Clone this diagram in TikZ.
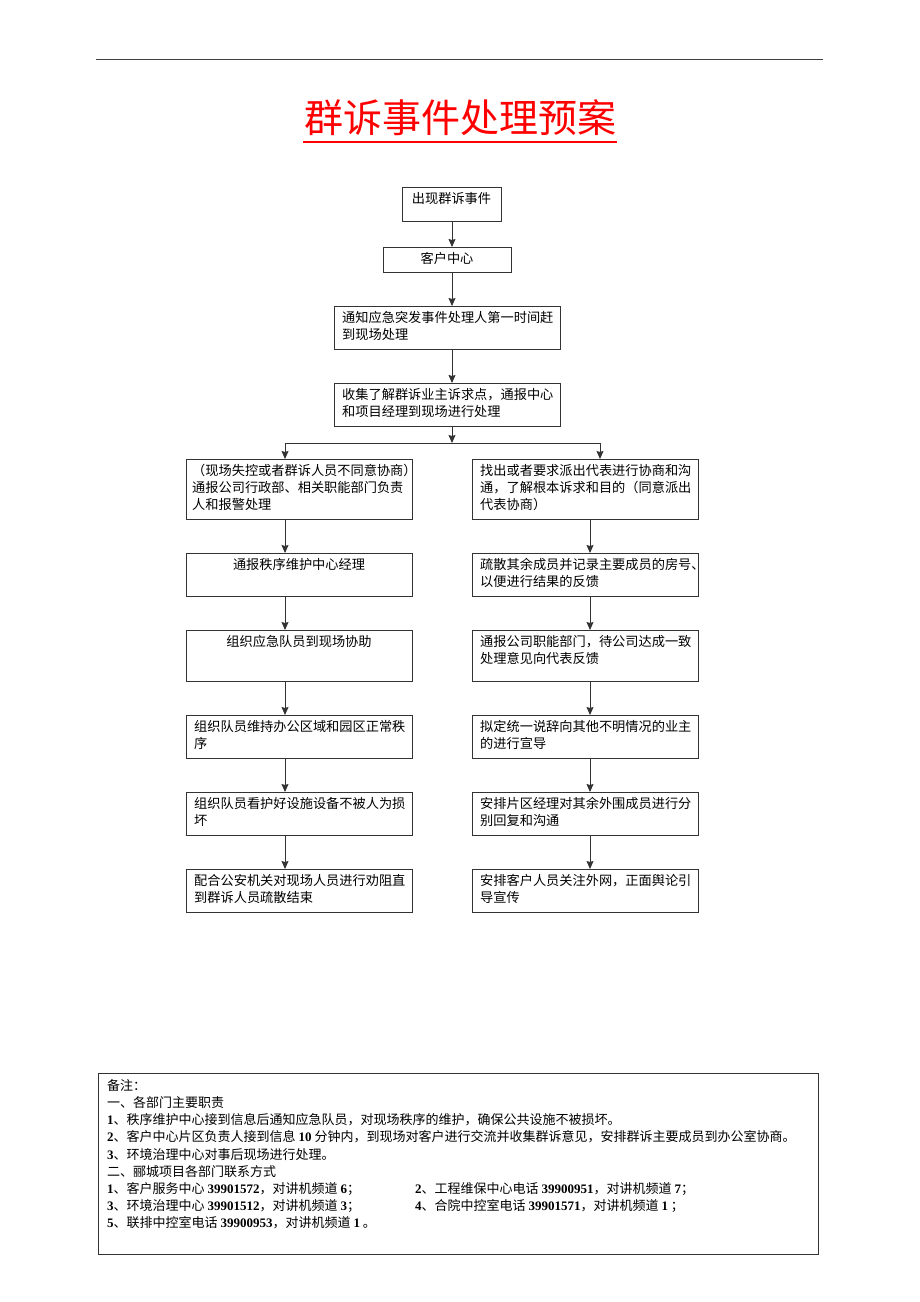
\documentclass[tikz,border=0pt]{standalone}
\usepackage{fontspec}
\setmainfont{Liberation Serif}
\newfontfamily\cjk{Noto Sans CJK SC}
\newfontfamily\numfont{Liberation Serif}
\newcommand\nm[1]{{\numfont\bfseries #1}}
\usetikzlibrary{arrows.meta}
\tikzset{
  frame/.style={draw=black!80, line width=0.9pt, anchor=north west, inner sep=0pt},
  txt/.style={anchor=north west, inner sep=0pt, align=left, font=\cjk\fontsize{13.2}{17}\selectfont},
  ctxt/.style={anchor=north, inner sep=0pt, align=center, font=\cjk\fontsize{13.2}{17}\selectfont},
  arr/.style={draw=black!80, line width=0.9pt, -{Stealth[length=8pt,width=7pt,inset=1pt]}},
  ln/.style={draw=black!80, line width=0.9pt},
  note/.style={anchor=north west, inner sep=0pt, font=\cjk\fontsize{13}{17}\selectfont},
}
\begin{document}
\begin{tikzpicture}[x=1pt,y=-1pt]
\useasboundingbox (0,0) rectangle (920,1302);
\fill[white] (0,0) rectangle (920,1302);
% top rule
\draw[black!75, line width=1pt] (96,59) -- (823,59);
% title
\node[anchor=north, inner sep=0pt, text=red, font=\cjk\fontsize{39}{39}\selectfont] (title) at (460,99) {群诉事件处理预案};
\draw[red, line width=2.6pt] (303,142) -- (617,142);

% center boxes
\node[frame, minimum width=99pt, minimum height=34pt] (b1) at (402,187) {};
\node[ctxt] at (451.5,192) {出现群诉事件};
\node[frame, minimum width=128pt, minimum height=25pt] (b2) at (383,247) {};
\node[ctxt] at (447,252) {客户中心};
\node[frame, minimum width=226pt, minimum height=43pt] (b3) at (334,306) {};
\node[txt] at (342,311) {通知应急突发事件处理人第一时间赶\\到现场处理};
\node[frame, minimum width=226pt, minimum height=43pt] (b4) at (334,383) {};
\node[txt] at (342,388) {收集了解群诉业主诉求点，通报中心\\和项目经理到现场进行处理};

\coordinate (cx) at (452,0);
\draw[arr] (b1.south -| cx) -- (b2.north -| cx);
\draw[arr] (b2.south -| cx) -- (b3.north -| cx);
\draw[arr] (b3.south -| cx) -- (b4.north -| cx);
\coordinate (split) at (452,443);
\coordinate (sl) at (285,443);
\coordinate (sr) at (600,443);
\draw[arr] (b4.south -| split) -- (split);
\draw[ln] (sl) -- (sr);

% left column
\node[frame, minimum width=226pt, minimum height=60pt] (l1) at (186,459) {};
\node[txt] at (192,464) {（现场失控或者群诉人员不同意协商）\\通报公司行政部、相关职能部门负责\\人和报警处理};
\node[frame, minimum width=226pt, minimum height=43pt] (l2) at (186,553) {};
\node[ctxt] at (299,558) {通报秩序维护中心经理};
\node[frame, minimum width=226pt, minimum height=51pt] (l3) at (186,630) {};
\node[ctxt] at (299,635) {组织应急队员到现场协助};
\node[frame, minimum width=226pt, minimum height=43pt] (l4) at (186,715) {};
\node[txt] at (194,720) {组织队员维持办公区域和园区正常秩\\序};
\node[frame, minimum width=226pt, minimum height=43pt] (l5) at (186,792) {};
\node[txt] at (194,797) {组织队员看护好设施设备不被人为损\\坏};
\node[frame, minimum width=226pt, minimum height=43pt] (l6) at (186,869) {};
\node[txt] at (194,874) {配合公安机关对现场人员进行劝阻直\\到群诉人员疏散结束};

% right column
\node[frame, minimum width=226pt, minimum height=60pt] (r1) at (472,459) {};
\node[txt] at (480,464) {找出或者要求派出代表进行协商和沟\\通，了解根本诉求和目的（同意派出\\代表协商）};
\node[frame, minimum width=226pt, minimum height=43pt] (r2) at (472,553) {};
\node[txt] at (480,558) {疏散其余成员并记录主要成员的房号、\\以便进行结果的反馈};
\node[frame, minimum width=226pt, minimum height=51pt] (r3) at (472,630) {};
\node[txt] at (480,635) {通报公司职能部门，待公司达成一致\\处理意见向代表反馈};
\node[frame, minimum width=226pt, minimum height=43pt] (r4) at (472,715) {};
\node[txt] at (480,720) {拟定统一说辞向其他不明情况的业主\\的进行宣导};
\node[frame, minimum width=226pt, minimum height=43pt] (r5) at (472,792) {};
\node[txt] at (480,797) {安排片区经理对其余外围成员进行分\\别回复和沟通};
\node[frame, minimum width=226pt, minimum height=43pt] (r6) at (472,869) {};
\node[txt] at (480,874) {安排客户人员关注外网，正面舆论引\\导宣传};

% split arrows
\draw[arr] (sl) -- (l1.north -| sl);
\draw[arr] (sr) -- (r1.north -| sr);
% left chain
\coordinate (lx) at (285,0);
\draw[arr] (l1.south -| lx) -- (l2.north -| lx);
\draw[arr] (l2.south -| lx) -- (l3.north -| lx);
\draw[arr] (l3.south -| lx) -- (l4.north -| lx);
\draw[arr] (l4.south -| lx) -- (l5.north -| lx);
\draw[arr] (l5.south -| lx) -- (l6.north -| lx);
% right chain
\coordinate (rx) at (590,0);
\draw[arr] (r1.south -| rx) -- (r2.north -| rx);
\draw[arr] (r2.south -| rx) -- (r3.north -| rx);
\draw[arr] (r3.south -| rx) -- (r4.north -| rx);
\draw[arr] (r4.south -| rx) -- (r5.north -| rx);
\draw[arr] (r5.south -| rx) -- (r6.north -| rx);

% notes box
\node[frame, minimum width=720pt, minimum height=181pt] (notes) at (98,1073) {};
\node[note] at (107,1079) {备注：};
\node[note] at (107,1096) {一、各部门主要职责};
\node[note] at (107,1113) {\nm{1}、秩序维护中心接到信息后通知应急队员，对现场秩序的维护，确保公共设施不被损坏。};
\node[note] at (107,1130.5) {\nm{2}、客户中心片区负责人接到信息 \nm{10} 分钟内，到现场对客户进行交流并收集群诉意见，安排群诉主要成员到办公室协商。};
\node[note] at (107,1148) {\nm{3}、环境治理中心对事后现场进行处理。};
\node[note] at (107,1165) {二、郦城项目各部门联系方式};
\node[note] at (107,1182) {\nm{1}、客户服务中心 \nm{39901572}，对讲机频道 \nm{6}；};
\node[note] at (415,1182) {\nm{2}、工程维保中心电话 \nm{39900951}，对讲机频道 \nm{7}；};
\node[note] at (107,1199) {\nm{3}、环境治理中心 \nm{39901512}，对讲机频道 \nm{3}；};
\node[note] at (415,1199) {\nm{4}、合院中控室电话 \nm{39901571}，对讲机频道 \nm{1} ；};
\node[note] at (107,1216) {\nm{5}、联排中控室电话 \nm{39900953}，对讲机频道 \nm{1} 。};
\end{tikzpicture}
\end{document}
